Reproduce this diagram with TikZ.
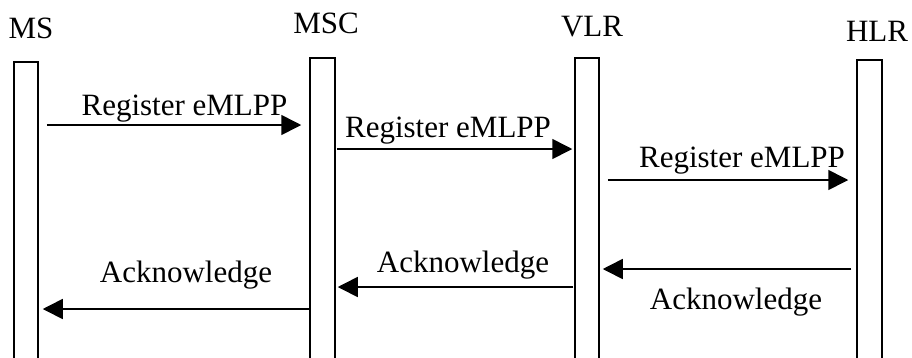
\documentclass[tikz,border=0pt]{standalone}
\usepackage{fontspec}
\setmainfont{Liberation Serif}
\usetikzlibrary{arrows.meta}
\begin{document}
\begin{tikzpicture}[x=1pt,y=1pt,
  lifebar/.style={draw=black,line width=1.5pt,fill=white,minimum height=420pt,anchor=north,inner sep=0pt},
  actor/.style={anchor=base,inner sep=0pt,font=\fontsize{31}{36}\selectfont},
  msglabel/.style={anchor=base,inner sep=0pt,font=\fontsize{31}{36}\selectfont},
  msg/.style={line width=1.6pt,-{Triangle[length=20pt,width=20pt]}}]
\useasboundingbox (0,0) rectangle (912,-357);
\clip (0,0) rectangle (912,-357);
\fill[white] (0,0) rectangle (912,-357);
% actor names
\node[actor] (tms)  at (31,-38)  {MS};
\node[actor] (tmsc) at (326,-33) {MSC};
\node[actor] (tvlr) at (592,-36) {VLR};
\node[actor] (thlr) at (877,-41) {HLR};
% life bars
\node[lifebar,minimum width=24pt] (ms)  at (26,-61)    {};
\node[lifebar,minimum width=25pt] (msc) at (322.5,-57) {};
\node[lifebar,minimum width=24pt] (vlr) at (587,-57)   {};
\node[lifebar,minimum width=25pt] (hlr) at (869.5,-59) {};
% message levels
\coordinate (y1) at (0,-125);
\coordinate (y2) at (0,-149);
\coordinate (y3) at (0,-180);
\coordinate (y4) at (0,-269);
\coordinate (y5) at (0,-287);
\coordinate (y6) at (0,-309);
% messages
\draw[msg] ([xshift=8pt]ms.east |- y1) -- ([xshift=-8pt]msc.west |- y1);
\draw[msg] ([xshift=1pt]msc.east |- y2) -- ([xshift=-2pt]vlr.west |- y2);
\draw[msg] ([xshift=8pt]vlr.east |- y3) -- ([xshift=-8pt]hlr.west |- y3);
\draw[msg] ([xshift=-5pt]hlr.west |- y4) -- ([xshift=3pt]vlr.east |- y4);
\draw[msg] ([xshift=-1pt]vlr.west |- y5) -- ([xshift=2pt]msc.east |- y5);
\draw[msg] (msc.west |- y6) -- ([xshift=4pt]ms.east |- y6);
% labels
\node[msglabel] (l1) at (184.5,-115) {Register eMLPP};
\node[msglabel] (l2) at (448,-137)   {Register eMLPP};
\node[msglabel] (l3) at (742,-167)   {Register eMLPP};
\node[msglabel] (l4) at (736,-309)   {Acknowledge};
\node[msglabel] (l5) at (463,-272)   {Acknowledge};
\node[msglabel] (l6) at (186,-282)   {Acknowledge};
\end{tikzpicture}
\end{document}
